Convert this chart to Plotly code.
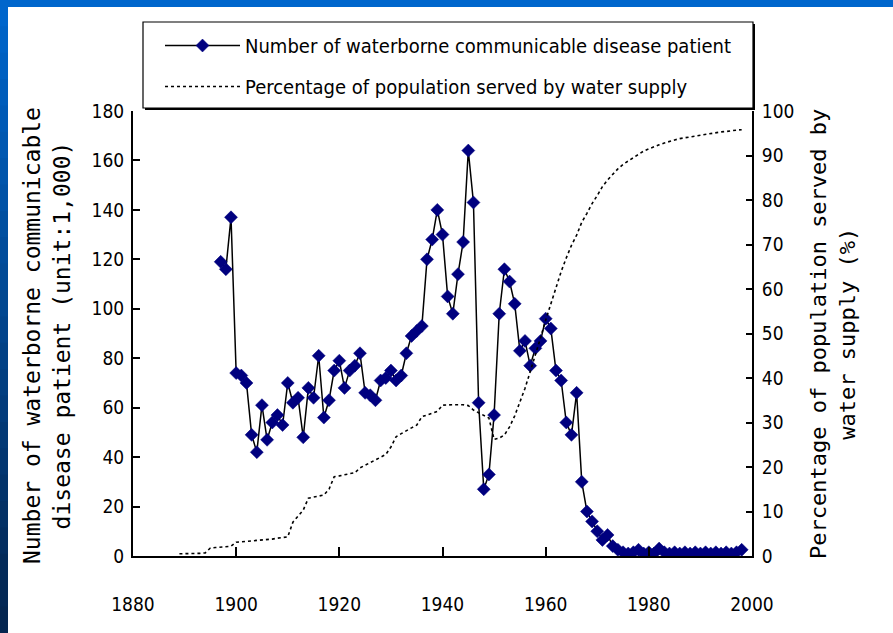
import plotly.graph_objects as go

# ---------------- data ----------------
disease_years = list(range(1897, 1999))
disease_patients = [
    119, 116, 137,                                   # 1897-1899
    74, 73, 70, 49, 42, 61, 47, 54, 57, 53,          # 1900-1909
    70, 62, 64, 48, 68, 64, 81, 56, 63, 75,          # 1910-1919
    79, 68, 75, 77, 82, 66, 65, 63, 71, 72,          # 1920-1929
    75, 71, 73, 82, 89, 91, 93, 120, 128, 140,       # 1930-1939
    130, 105, 98, 114, 127, 164, 143, 62, 27, 33,    # 1940-1949
    57, 98, 116, 111, 102, 83, 87, 77, 84, 87,       # 1950-1959
    96, 92, 75, 71, 54, 49, 66, 30, 18, 14,          # 1960-1969
    10, 6.5, 8.5, 4, 2.5, 1.5, 1, 1.5, 2.5, 1,       # 1970-1979
    1.5, 1, 3, 1.5, 1, 1.5, 1, 1.5, 1, 1.5,          # 1980-1989
    1, 1.5, 1, 1.5, 1, 1.5, 1, 1.5, 2.5,             # 1990-1998
]

supply_years = list(range(1889, 1999))
supply_percent = [
    0.5,                                                         # 1889
    0.5, 0.5, 0.6, 0.6, 0.7, 1.8, 1.9, 2.0, 2.1, 2.2,            # 1890-1899
    3.1, 3.2, 3.2, 3.3, 3.4, 3.5, 3.7, 3.8, 4.0, 4.1,            # 1900-1909
    4.3, 7.6, 9.0, 10.3, 13.0, 13.2, 13.4, 13.7, 15.0, 17.8,     # 1910-1919
    18.0, 18.3, 18.5, 18.7, 19.8, 20.4, 21.0, 21.6, 22.2, 22.8,  # 1920-1929
    24.5, 26.8, 27.5, 28.2, 28.8, 29.4, 31.3, 31.7, 32.1, 32.5,  # 1930-1939
    33.9, 34.0, 34.0, 34.0, 34.0, 33.8, 32.8, 32.2, 31.6, 31.0,  # 1940-1949
    26.2, 26.5, 27.2, 29.0, 31.5, 34.5, 37.7, 41.4, 45.0, 49.0,  # 1950-1959
    53.0, 56.8, 60.3, 63.9, 67.0, 69.8, 72.1, 75.0, 77.0, 79.2,  # 1960-1969
    81.0, 83.0, 84.5, 85.8, 87.0, 88.0, 88.8, 89.6, 90.3, 91.0,  # 1970-1979
    91.5, 92.0, 92.4, 92.8, 93.2, 93.5, 93.8, 94.0, 94.2, 94.4,  # 1980-1989
    94.6, 94.8, 95.0, 95.1, 95.3, 95.4, 95.6, 95.7, 95.8,        # 1990-1998
]

x_tickvals = [1880, 1900, 1920, 1940, 1960, 1980, 2000]
left_tickvals = list(range(0, 181, 20))
right_tickvals = list(range(0, 101, 10))

name_disease = "Number of waterborne communicable disease patient"
name_supply = "Percentage of population served by water supply"
left_title = "Number of waterborne communicable<br>disease patient (unit:1,000)"
right_title = "Percentage of population served by<br>water supply (%)"

# ---------------- layout geometry ----------------
W, H = 893, 633
L, R, T, B = 133, 141, 111, 77
PW, PH = W - L - R, H - T - B


def px(x):
    return (x - L) / PW


def py(y):
    return 1 - (y - T) / PH


NARROW = "Liberation Sans Narrow, DejaVu Sans Condensed, Arial Narrow, sans-serif"
MONO = "DejaVu Sans Mono, monospace"

fig = go.Figure()

fig.add_trace(go.Scatter(
    x=supply_years, y=supply_percent, name=name_supply, yaxis="y2",
    mode="lines", line=dict(color="black", width=1.6, dash="3px,3px"),
    legendgroup="b", legendrank=2,
))
fig.add_trace(go.Scatter(
    x=disease_years, y=disease_patients, name=name_disease, yaxis="y",
    mode="lines+markers", line=dict(color="black", width=1.5),
    marker=dict(symbol="diamond", size=10, color="#00007f",
                line=dict(color="#00007f", width=0.5)),
    legendgroup="a", legendrank=1,
))

shapes = []
# slide decoration: top blue band
shapes.append(dict(type="rect", xref="paper", yref="paper",
                   x0=px(0), x1=px(W), y0=py(0), y1=py(7),
                   fillcolor="#0066cc", line=dict(width=0), layer="below"))
# left blue gradient strip
n_bands = 24
for i in range(n_bands):
    t = i / (n_bands - 1)
    r = int(0x00 + (0x05 - 0x00) * t)
    g = int(0x66 + (0x26 - 0x66) * t)
    b = int(0xcc + (0x50 - 0xcc) * t)
    shapes.append(dict(type="rect", xref="paper", yref="paper",
                       x0=px(0), x1=px(8),
                       y0=py(i * H / n_bands), y1=py((i + 1) * H / n_bands + 1),
                       fillcolor=f"rgb({r},{g},{b})", line=dict(width=0), layer="below"))
# legend box shadow + box
shapes.append(dict(type="rect", xref="paper", yref="paper",
                   x0=px(145), x1=px(755), y0=py(24), y1=py(110),
                   fillcolor="black", line=dict(width=0), layer="below"))
shapes.append(dict(type="rect", xref="paper", yref="paper",
                   x0=px(143), x1=px(753), y0=py(22), y1=py(108),
                   fillcolor="white", line=dict(color="black", width=1.2), layer="below"))

annotations = [
    dict(text=left_title, xref="paper", yref="paper", x=px(47), y=py(336),
         textangle=-90, showarrow=False, xanchor="center", yanchor="middle",
         font=dict(family=MONO, size=23, color="black")),
    dict(text=right_title, xref="paper", yref="paper", x=px(833), y=py(334),
         textangle=-90, showarrow=False, xanchor="center", yanchor="middle",
         font=dict(family=MONO, size=22, color="black")),
]

fig.update_layout(
    width=W, height=H,
    margin=dict(l=L, r=R, t=T, b=B, pad=0),
    paper_bgcolor="white", plot_bgcolor="white",
    showlegend=True,
    legend=dict(x=px(160), y=py(26), xanchor="left", yanchor="top",
                bgcolor="rgba(0,0,0,0)", borderwidth=0,
                font=dict(family=NARROW, size=20, color="black"),
                itemwidth=75, tracegroupgap=12, traceorder="grouped"),
    xaxis=dict(range=[1880, 2000], tickvals=x_tickvals, ticks="inside", ticklen=9,
               tickwidth=1.5, tickcolor="black", showline=True, linecolor="black",
               linewidth=2, showgrid=False, zeroline=False, ticklabelstandoff=30,
               tickfont=dict(family=NARROW, size=19, color="black")),
    yaxis=dict(range=[0, 180], tickvals=left_tickvals, ticks="inside", ticklen=7,
               tickwidth=1.5, tickcolor="black", showline=True, linecolor="black",
               linewidth=2, showgrid=False, zeroline=False, ticklabelstandoff=3,
               tickfont=dict(family=NARROW, size=19, color="black")),
    yaxis2=dict(range=[0, 100], tickvals=right_tickvals, overlaying="y", side="right",
                ticks="inside", ticklen=6, tickwidth=1.5, tickcolor="black",
                showline=True, linecolor="black", linewidth=2, showgrid=False,
                zeroline=False, ticklabelstandoff=4,
                tickfont=dict(family=NARROW, size=19, color="black")),
    shapes=shapes,
    annotations=annotations,
)

fig.write_html(
    "out.html",
    config={"displayModeBar": False},
    post_script="document.body.style.margin='0';document.body.style.overflow='hidden';",
)
